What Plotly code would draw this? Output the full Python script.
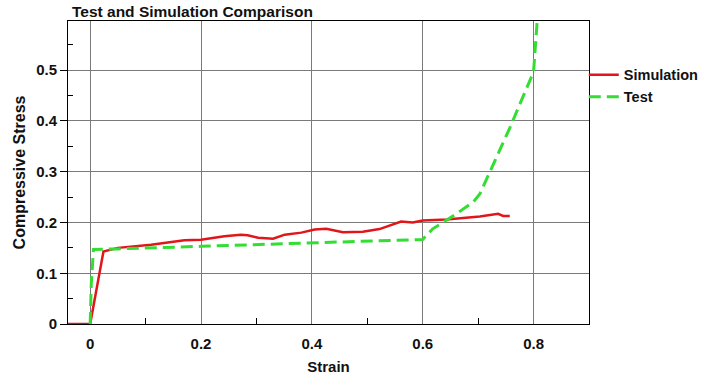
import plotly.graph_objects as go

# Simulation (red solid)
sim_strain = [-0.04, 0.0, 0.024, 0.05, 0.11, 0.17, 0.20, 0.242, 0.272, 0.284, 0.303, 0.33,
              0.351, 0.381, 0.405, 0.426, 0.456, 0.492, 0.522, 0.546, 0.561, 0.582, 0.600,
              0.643, 0.691, 0.703, 0.736, 0.745, 0.757]
sim_stress = [0.0, 0.0, 0.143, 0.150, 0.156, 0.165, 0.166, 0.173, 0.176, 0.175, 0.170, 0.168,
              0.176, 0.180, 0.186, 0.1875, 0.181, 0.182, 0.187, 0.197, 0.202, 0.200, 0.204,
              0.206, 0.210, 0.212, 0.217, 0.213, 0.213]

# Test (green dashed)
test_strain = [0.0, 0.002, 0.006, 0.05, 0.2, 0.405, 0.6, 0.618, 0.655, 0.691, 0.697, 0.703,
               0.757, 0.8, 0.808]
test_stress = [0.0, 0.08, 0.147, 0.148, 0.153, 0.160, 0.1666, 0.1875, 0.213, 0.240, 0.249,
               0.256, 0.386, 0.497, 0.62]

x_ticks = [0, 0.2, 0.4, 0.6, 0.8]
x_tick_text = ["0", "0.2", "0.4", "0.6", "0.8"]
x_minor = [0.1, 0.3, 0.5, 0.7]
y_ticks = [0, 0.1, 0.2, 0.3, 0.4, 0.5]
y_tick_text = ["0", "0.1", "0.2", "0.3", "0.4", "0.5"]
y_minor = [0.05, 0.15, 0.25, 0.35, 0.45, 0.55]

FONT = "Liberation Sans, Arial, sans-serif"

fig = go.Figure()
fig.add_trace(go.Scatter(x=sim_strain, y=sim_stress, mode="lines", name="Simulation",
                         line=dict(color="#e0161b", width=2.5)))
fig.add_trace(go.Scatter(x=test_strain, y=test_stress, mode="lines", name="Test",
                         line=dict(color="#33dd33", width=3, dash="12px,6px")))

fig.update_layout(
    width=704, height=379,
    margin=dict(l=68, r=115, t=21, b=55, autoexpand=False),
    paper_bgcolor="white", plot_bgcolor="white",
    font=dict(family=FONT, color="black"),
    title=dict(text="Test and Simulation Comparison", x=72/704, xanchor="left", xref="container",
               y=1-12/379, yanchor="middle", yref="container",
               font=dict(family=FONT, size=15.5, weight="bold", color="#111")),
    legend=dict(x=0.99, xanchor="left", y=0.875, yanchor="top",
                font=dict(family=FONT, size=14.5, weight="bold", color="#111"),
                itemwidth=30, tracegroupgap=0, bgcolor="rgba(0,0,0,0)"),
    showlegend=True,
)
fig.update_xaxes(
    range=[-0.04, 0.9], tickvals=x_ticks, ticktext=x_tick_text, ticks="",
    showgrid=True, gridcolor="#7a7a7a", gridwidth=1, zeroline=False,
    showline=True, linecolor="black", linewidth=1, mirror=True,
    tickfont=dict(family=FONT, size=15, weight="bold", color="#111"),
    ticklabelstandoff=6,
    minor=dict(tickvals=x_minor, ticks="inside", ticklen=6, tickcolor="black", showgrid=False),
    title=dict(text="Strain", standoff=10,
               font=dict(family=FONT, size=15, weight="bold", color="#111")),
    automargin=False,
)
fig.update_yaxes(
    range=[0, 0.597], tickvals=y_ticks, ticktext=y_tick_text, ticks="outside", ticklen=7,
    tickcolor="black",
    showgrid=True, gridcolor="#7a7a7a", gridwidth=1, zeroline=False,
    showline=True, linecolor="black", linewidth=1, mirror=True,
    tickfont=dict(family=FONT, size=15, weight="bold", color="#111"),
    minor=dict(tickvals=y_minor, ticks="inside", ticklen=5, tickcolor="black", showgrid=False),
    title=dict(text="Compressive Stress", standoff=6,
               font=dict(family=FONT, size=16, weight="bold", color="#111")),
    automargin=False,
)

fig.write_html("out.html")
